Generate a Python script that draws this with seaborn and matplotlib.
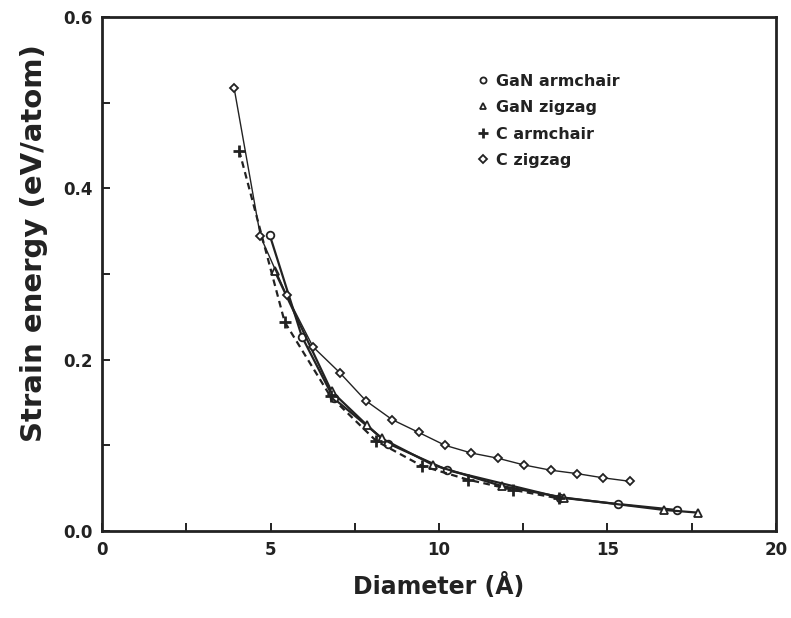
import matplotlib
matplotlib.use("Agg")
import matplotlib.pyplot as plt
from matplotlib.lines import Line2D
from matplotlib.ticker import MultipleLocator, FuncFormatter
import seaborn as sns
import pandas as pd

# Strain energy vs. tube diameter
gan_arm_d = [4.98, 5.93, 6.87, 8.50, 10.25, 13.60, 15.30, 17.05]
gan_arm_e = [0.345, 0.227, 0.155, 0.102, 0.071, 0.039, 0.0315, 0.0245]

gan_zig_d = [5.13, 6.81, 7.85, 8.30, 9.83, 11.86, 13.70, 16.69, 17.69]
gan_zig_e = [0.303, 0.163, 0.124, 0.108, 0.077, 0.0525, 0.039, 0.0245, 0.0214]

c_arm_d = [4.07, 5.42, 6.78, 8.14, 9.49, 10.85, 12.20, 13.56]
c_arm_e = [0.444, 0.244, 0.157, 0.105, 0.076, 0.060, 0.048, 0.038]

c_zig_d = [3.92, 4.70, 5.48, 6.26, 7.05, 7.83, 8.61, 9.40, 10.18, 10.96,
           11.74, 12.53, 13.31, 14.09, 14.88, 15.66]
c_zig_e = [0.517, 0.344, 0.275, 0.215, 0.185, 0.152, 0.130, 0.115, 0.100,
           0.091, 0.085, 0.077, 0.071, 0.067, 0.062, 0.058]

labels = ["GaN armchair", "GaN zigzag", "C armchair", "C zigzag"]

sns.set_theme(style="ticks")
plt.rcParams["font.family"] = ["DejaVu Sans"]
plt.rcParams["font.weight"] = "bold"

INK = "#222222"

fig = plt.figure(figsize=(7.91, 6.18), dpi=100)
ax = fig.add_axes([0.129, 0.1408, 0.852, 0.8317])

series = [
    (gan_arm_d, gan_arm_e, dict(marker="o", lw=1.6, ls="-", ms=5.5, mfc="white", mew=1.3)),
    (gan_zig_d, gan_zig_e, dict(marker="^", lw=1.6, ls="-", ms=6, mfc="white", mew=1.3)),
    (c_arm_d, c_arm_e, dict(marker="+", lw=1.6, ls=(0, (3, 2)), ms=9, mew=2.0)),
    (c_zig_d, c_zig_e, dict(marker="D", lw=1.0, ls="-", ms=4.5, mfc="white", mew=1.3)),
]

for (d, e, kw), lab in zip(series, labels):
    df = pd.DataFrame({"d": d, "e": e})
    sns.lineplot(data=df, x="d", y="e", ax=ax, color=INK,
                 linewidth=kw["lw"], linestyle=kw["ls"], marker=kw["marker"],
                 markersize=kw["ms"], markerfacecolor=kw.get("mfc", INK),
                 markeredgecolor=INK, markeredgewidth=kw["mew"],
                 legend=False)

ax.set_xlim(0, 20)
ax.set_ylim(0, 0.6)
ax.xaxis.set_major_locator(MultipleLocator(5))
ax.xaxis.set_minor_locator(MultipleLocator(2.5))
ax.yaxis.set_major_locator(MultipleLocator(0.2))
ax.yaxis.set_minor_locator(MultipleLocator(0.1))
ax.xaxis.set_major_formatter(FuncFormatter(lambda v, p: f"{v:.0f}"))
ax.yaxis.set_major_formatter(FuncFormatter(lambda v, p: f"{v:.1f}"))

ax.tick_params(which="both", direction="in", length=6, width=1.4, color=INK,
               top=False, right=False)
ax.tick_params(which="major", labelsize=12, pad=7, labelcolor=INK)
for lbl in ax.get_xticklabels() + ax.get_yticklabels():
    lbl.set_fontweight("bold")
for s in ax.spines.values():
    s.set_visible(True)
    s.set_linewidth(2.0)
    s.set_color(INK)

ax.set_xlabel("Diameter (Å)", fontsize=17, fontweight="bold", labelpad=10, color=INK)
ax.set_ylabel("Strain energy (eV/atom)", fontsize=21, fontweight="bold", color=INK)
ax.yaxis.set_label_coords(-0.080, 0.56)

handles = []
for (d, e, kw), lab in zip(series, labels):
    handles.append(Line2D([], [], color=INK, linestyle="none", marker=kw["marker"],
                          markersize=kw["ms"] * 0.8, markerfacecolor=kw.get("mfc", INK),
                          markeredgecolor=INK, markeredgewidth=kw["mew"]))
leg = ax.legend(handles, labels, loc="upper left", bbox_to_anchor=(0.537, 0.918), frameon=False,
                handlelength=0.6, handletextpad=0.5, labelspacing=0.72,
                prop={"size": 11.5, "weight": "bold"})
for t in leg.get_texts():
    t.set_color(INK)

fig.savefig("out.png", dpi=100)
